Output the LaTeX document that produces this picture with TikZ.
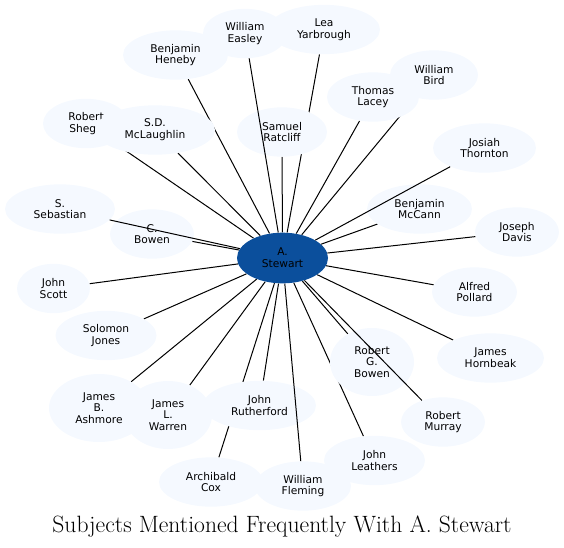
\documentclass[tikz,border=0pt]{standalone}
\usepackage{xcolor}
\usepackage{fontspec}
\newfontfamily\subjfont{DejaVu Sans}
\usepackage{tikz}
\usetikzlibrary{shapes.geometric, positioning, backgrounds}
\definecolor{subjfill}{RGB}{245, 249, 255}
\definecolor{centerblue}{RGB}{11, 79, 156}

\begin{document}
\begin{tikzpicture}[
    x=0.75pt, y=-0.75pt,
    subj/.style={ellipse, fill=subjfill, inner sep=0pt, minimum width=63pt,
                 minimum height=37pt, align=center,
                 font=\subjfont\fontsize{8}{8.8}\selectfont},
    tallsubj/.style={subj, minimum height=51pt},
    link/.style={black, line width=0.75pt}
]
    \useasboundingbox (0,0) rectangle (564,547);

    % subjects, back to front
    \node[subj, minimum width=78.75pt] (heneby) at (175.5,55) {Benjamin\\Heneby};
    \node[subj] (easley) at (245,33.5) {William\\Easley};
    \node[subj, minimum width=84pt] (yarbrough) at (324,29.5) {Lea\\Yarbrough};
    \node[subj, minimum width=69pt] (lacey) at (373,97) {Thomas\\Lacey};
    \node[subj, minimum width=66pt] (bird) at (434,75) {William\\Bird};
    \node[subj, minimum width=64.5pt] (shego) at (86,123.5) {Robert\\Shego};
    \node[subj, minimum width=90pt] (mclaughlin) at (155,130) {S.D.\\McLaughlin};
    \node[subj, minimum width=67.5pt] (ratcliff) at (282,132) {Samuel\\Ratcliff};
    \node[subj, minimum width=77.25pt] (thornton) at (484.5,148) {Josiah\\Thornton};
    \node[subj, minimum width=82.5pt] (sebastian) at (60,209) {S.\\Sebastian};
    \node[subj] (cbowen) at (152,234) {C.\\Bowen};
    \node[subj, minimum width=78.75pt] (mccann) at (419.5,209) {Benjamin\\McCann};
    \node[subj] (davis) at (517,232) {Joseph\\Davis};
    \node[subj, minimum width=54.75pt] (scott) at (53.5,288.5) {John\\Scott};
    \node[subj, minimum width=63.75pt] (pollard) at (474.5,292) {Alfred\\Pollard};
    \node[subj, minimum width=75.75pt] (jones) at (106,335.5) {Solomon\\Jones};
    \node[tallsubj] (rgbowen) at (372,362) {Robert\\G.\\Bowen};
    \node[subj, minimum width=80.25pt] (hornbeak) at (490.5,358) {James\\Hornbeak};
    \node[tallsubj, minimum width=75pt] (ashmore) at (99,408) {James\\B.\\Ashmore};
    \node[tallsubj, minimum width=66pt] (warren) at (168,415) {James\\L.\\Warren};
    \node[subj, minimum width=84.75pt] (rutherford) at (259.5,405.5) {John\\Rutherford};
    \node[subj] (murray) at (443,422) {Robert\\Murray};
    \node[subj, minimum width=75.75pt] (leathers) at (374.5,460.5) {John\\Leathers};
    \node[subj, minimum width=78pt] (cox) at (211,482) {Archibald\\Cox};
    \node[subj, minimum width=72pt] (fleming) at (303,486) {William\\Fleming};
    \node[subj, fill=centerblue, minimum width=68.25pt, minimum height=38pt] (stewart) at (282.5,258) {A.\\Stewart};

    % links hidden behind other subjects
    \begin{pgfonlayer}{background}
    \draw[link] (stewart) -- (heneby);
    \draw[link] (stewart) -- (yarbrough);
    \draw[link] (stewart) -- (lacey);
    \draw[link] (stewart) -- (bird);
    \draw[link] (stewart) -- (shego);
    \draw[link] (stewart) -- (mclaughlin);
    \draw[link] (stewart) -- (ratcliff);
    \draw[link] (stewart) -- (cbowen);
    \draw[link] (stewart) -- (mccann);
    \draw[link] (stewart) -- (davis);
    \draw[link] (stewart) -- (scott);
    \draw[link] (stewart) -- (pollard);
    \draw[link] (stewart) -- (jones);
    \draw[link] (stewart) -- (rgbowen);
    \draw[link] (stewart) -- (hornbeak);
    \draw[link] (stewart) -- (ashmore);
    \draw[link] (stewart) -- (warren);
    \draw[link] (stewart) -- (rutherford);
    \draw[link] (stewart) -- (leathers);
    \draw[link] (stewart) -- (cox);
    \end{pgfonlayer}

    % links drawn over other subjects
    \draw[link] (stewart) -- (easley);
    \draw[link] (stewart) -- (sebastian);
    \draw[link] (stewart) -- (thornton);
    \draw[link] (stewart) -- (murray);
    \draw[link] (stewart) -- (fleming);

    \node[font=\fontsize{17.7}{21}\selectfont, anchor=base] (title) at (282,532)
        {Subjects Mentioned Frequently With A. Stewart};
\end{tikzpicture}
\end{document}
